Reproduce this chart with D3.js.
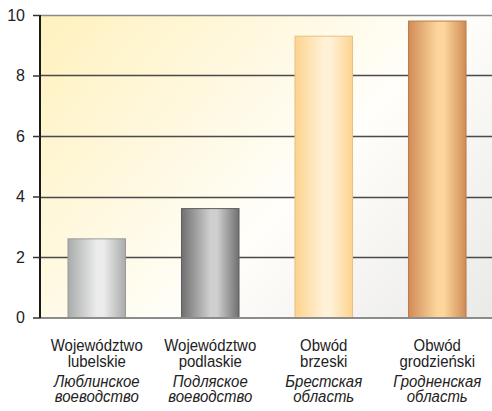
<!DOCTYPE html>
<html>
<head>
<meta charset="utf-8">
<script src="https://cdn.jsdelivr.net/npm/d3@7"></script>
<style>
  html, body { margin: 0; padding: 0; background: #fff; }
  svg { display: block; }
  text { font-family: "Liberation Sans", Arial, sans-serif; fill: #222; }
</style>
</head>
<body>
<svg id="chart" width="492" height="411"></svg>
<script>
// Regions and their values
const regionsPl = [["Województwo", "lubelskie"], ["Województwo", "podlaskie"], ["Obwód", "brzeski"], ["Obwód", "grodzieński"]];
const regionsRu = [["Люблинское", "воеводство"], ["Подляское", "воеводство"], ["Брестская", "область"], ["Гродненская", "область"]];
const values = [2.6, 3.6, 9.3, 9.8];
const yTicks = [0, 2, 4, 6, 8, 10];

// Cylinder shading per bar: [edge, centre, border]
const barShades = [
  ["#a9abab", "#ececec", "#9a9c9c"],
  ["#6f6f6f", "#cfcfcf", "#5e5e5e"],
  ["#fdd38e", "#fff1d6", "#e8bf86"],
  ["#d18b56", "#fcd69c", "#b97b4c"]
];

const svg = d3.select("#chart");
const margin = { left: 40, top: 15, right: 0, bottom: 94 };
const W = 494, H = 411;
const x0 = margin.left, x1 = W, yTop = margin.top, yBot = H - margin.bottom;

const ids = values.map((d, i) => i);
const x = d3.scaleBand().domain(ids).range([x0, x1]).paddingInner(0.493).paddingOuter(0.2465);
const y = d3.scaleLinear().domain([0, 10]).range([yBot + 0.5, yTop]);

const defs = svg.append("defs");
// Plot background: warm at top-left, fading to grey at bottom-right
const bg = defs.append("linearGradient").attr("id", "bg")
  .attr("gradientUnits", "userSpaceOnUse")
  .attr("x1", x0).attr("y1", yTop).attr("x2", x1).attr("y2", yBot + 120);
bg.append("stop").attr("offset", "0").attr("stop-color", "#fff1bd");
bg.append("stop").attr("offset", "0.5").attr("stop-color", "#fffefa");
bg.append("stop").attr("offset", "1").attr("stop-color", "#e2e2e2");

barShades.forEach((s, i) => {
  const g = defs.append("linearGradient").attr("id", "bar" + i)
    .attr("x1", "0").attr("y1", "0").attr("x2", "1").attr("y2", "0");
  g.append("stop").attr("offset", "0").attr("stop-color", s[0]);
  g.append("stop").attr("offset", "0.5").attr("stop-color", s[1]);
  g.append("stop").attr("offset", "0.62").attr("stop-color", s[1]);
  g.append("stop").attr("offset", "1").attr("stop-color", s[0]);
});

svg.append("rect")
  .attr("x", x0).attr("y", yTop).attr("width", x1 - x0).attr("height", yBot - yTop)
  .attr("fill", "url(#bg)");

// Horizontal grid lines
svg.append("g").selectAll("line").data(yTicks.filter(t => t > 0)).join("line")
  .attr("x1", x0).attr("x2", x1)
  .attr("y1", d => Math.round(y(d)) + 0.5).attr("y2", d => Math.round(y(d)) + 0.5)
  .attr("stroke", d => d === 10 ? "#8a8a8a" : "#4a4a4a")
  .attr("stroke-width", 1.5);

// Bars
svg.append("g").selectAll("rect").data(values).join("rect")
  .attr("x", (d, i) => x(i)).attr("width", x.bandwidth())
  .attr("y", d => y(d)).attr("height", d => y(0) - y(d))
  .attr("fill", (d, i) => `url(#bar${i})`)
  .attr("stroke", (d, i) => barShades[i][2])
  .attr("stroke-width", 1);

// Baseline
svg.append("line")
  .attr("x1", x0).attr("x2", x1).attr("y1", yBot + 1).attr("y2", yBot + 1)
  .attr("stroke", "#8c8c8c").attr("stroke-width", 2);

// Y axis
const yAxis = d3.axisLeft(y).tickValues(yTicks).tickSize(7).tickPadding(8).tickFormat(d3.format("d"));
const ga = svg.append("g").attr("transform", `translate(${x0},0)`).call(yAxis);
ga.select(".domain").attr("d", `M0,${yTop}V${yBot + 1}`).attr("stroke", "#1a1a1a").attr("stroke-width", 2);
ga.selectAll(".tick line").attr("stroke", "#333").attr("stroke-width", 1.5);
ga.selectAll(".tick text").attr("font-size", 16).attr("fill", "#222")
  .attr("font-family", "'Liberation Sans', Arial, sans-serif");

// Category labels: Polish names, then Russian names in italics (slightly condensed type)
const labels = svg.append("g").attr("text-anchor", "middle").attr("font-size", 17);
function addLabel(lines, cx, baseY, step, italic) {
  const t = labels.append("text")
    .attr("transform", `translate(${cx},${baseY}) scale(0.88,1)`)
    .attr("font-style", italic ? "italic" : null);
  lines.forEach((s, k) => {
    t.append("tspan").attr("x", 0).attr("y", k * step).text(s);
  });
}
ids.forEach(i => {
  const cx = x(i) + x.bandwidth() / 2;
  addLabel(regionsPl[i], cx, 351, 16, false);
  addLabel(regionsRu[i], cx, 387, 15.5, true);
});
</script>
</body>
</html>
